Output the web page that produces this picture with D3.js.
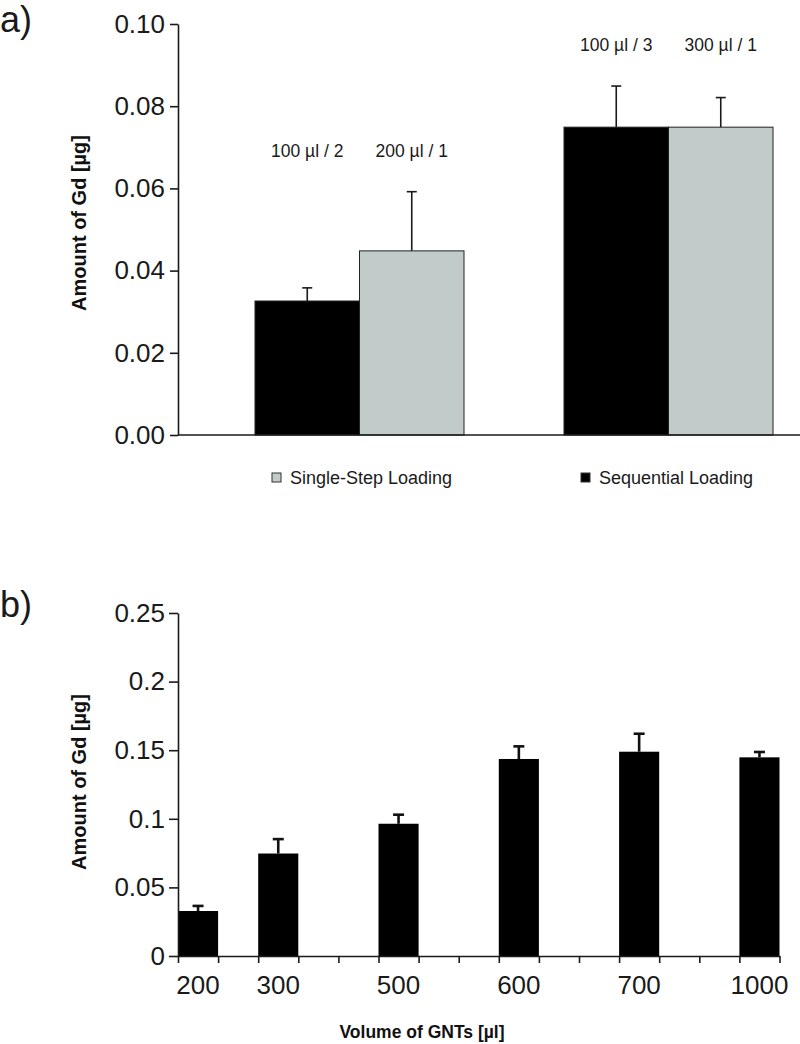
<!DOCTYPE html>
<html>
<head>
<meta charset="utf-8">
<script src="https://cdn.jsdelivr.net/npm/d3@7/dist/d3.min.js"></script>
<style>
  html, body { margin: 0; padding: 0; background: #fff; }
  svg { display: block; font-family: "Liberation Sans", Arial, Helvetica, sans-serif; }
</style>
</head>
<body>
<svg id="chart" width="800" height="1044"></svg>
<script>
// ---------- Data: panel a ----------
const groupsA = ["g1", "g2"];
const seriesA = ["Sequential Loading", "Single-Step Loading"];
const barLabelsA = [["100 µl / 2", "200 µl / 1"], ["100 µl / 3", "300 µl / 1"]];
const sequentialValues = [0.0326, 0.0749];
const sequentialErrors = [0.0032, 0.0100];
const singleStepValues = [0.0448, 0.0749];
const singleStepErrors = [0.0144, 0.0072];
const ticksA = [0, 0.02, 0.04, 0.06, 0.08, 0.10];
const legendA = ["Single-Step Loading", "Sequential Loading"];

// ---------- Data: panel b ----------
const volumesB = ["200", "300", "500", "600", "700", "1000"];
const valuesB = [0.0328, 0.0747, 0.0964, 0.1436, 0.1489, 0.1448];
const errorsB = [0.0037, 0.0105, 0.0066, 0.0092, 0.0131, 0.0039];
const ticksB = [0, 0.05, 0.1, 0.15, 0.2, 0.25];
const tickLabelsB = ["0", "0.05", "0.1", "0.15", "0.2", "0.25"];

// ---------- Layout ----------
const slotCount = 15;
const slotOfBar = [0, 2, 5, 8, 11, 14];
const colors = { "Sequential Loading": "#000000", "Single-Step Loading": "#c1cbca" };

const svg = d3.select("#chart");

// ===== Panel a =====
const yA = d3.scaleLinear().domain([0, 0.10]).range([435, 24]);
const x0A = d3.scaleBand().domain(groupsA).range([205, 823]).paddingInner(0.3236).paddingOuter(0.1618);
const x1A = d3.scaleBand().domain(seriesA).range([0, x0A.bandwidth()]);

const gA = svg.append("g");
const barsA = [];
groupsA.forEach((g, i) => {
  barsA.push({ g, s: seriesA[0], v: sequentialValues[i], e: sequentialErrors[i], label: barLabelsA[i][0] });
  barsA.push({ g, s: seriesA[1], v: singleStepValues[i], e: singleStepErrors[i], label: barLabelsA[i][1] });
});

// error bars (behind bars)
const errA = gA.append("g").attr("stroke", "#1a1a1a").attr("stroke-width", 1.6);
barsA.forEach(d => {
  const cx = x0A(d.g) + x1A(d.s) + x1A.bandwidth() / 2;
  errA.append("line").attr("x1", cx).attr("x2", cx).attr("y1", yA(d.v)).attr("y2", yA(d.v + d.e));
  errA.append("line").attr("x1", cx - 5).attr("x2", cx + 5).attr("y1", yA(d.v + d.e)).attr("y2", yA(d.v + d.e));
});

gA.append("g").selectAll("rect").data(barsA).join("rect")
  .attr("x", d => x0A(d.g) + x1A(d.s))
  .attr("y", d => yA(d.v))
  .attr("width", x1A.bandwidth())
  .attr("height", d => yA(0) - yA(d.v))
  .attr("fill", d => colors[d.s])
  .attr("stroke", "#222")
  .attr("stroke-width", 1);

// bar labels
groupsA.forEach((g, i) => {
  const top = d3.max(barsA.filter(d => d.g === g), d => d.v + d.e);
  const ly = yA(top) - 35;
  barsA.filter(d => d.g === g).forEach(d => {
    gA.append("text")
      .attr("x", x0A(d.g) + x1A(d.s) + x1A.bandwidth() / 2)
      .attr("y", ly)
      .attr("text-anchor", "middle")
      .attr("font-size", 17.5)
      .attr("fill", "#1a1a1a")
      .text(d.label);
  });
});

// x baseline
gA.append("line").attr("x1", 178).attr("x2", 800).attr("y1", yA(0)).attr("y2", yA(0))
  .attr("stroke", "#1a1a1a").attr("stroke-width", 1.6);

// y axis
const axA = gA.append("g").attr("transform", "translate(178,0)")
  .call(d3.axisLeft(yA).tickValues(ticksA).tickFormat(d3.format(".2f")).tickSize(8).tickSizeOuter(0).tickPadding(5));
axA.selectAll("path, line").attr("stroke", "#1a1a1a").attr("stroke-width", 1.6);
axA.selectAll("text").attr("font-size", 26).attr("fill", "#1a1a1a").attr("font-family", "Liberation Sans, Arial, sans-serif");

// y title
gA.append("text").attr("transform", "translate(86,223) rotate(-90)")
  .attr("text-anchor", "middle").attr("font-size", 20).attr("font-weight", "bold").attr("fill", "#111")
  .text("Amount of Gd [µg]");

// panel letter
svg.append("text").attr("x", 0).attr("y", 32).attr("font-size", 36).attr("fill", "#1a1a1a").text("a)");

// legend
const legX = [272, 581];
legendA.forEach((name, i) => {
  svg.append("rect").attr("x", legX[i]).attr("y", 473).attr("width", 9).attr("height", 9)
    .attr("fill", colors[name]).attr("stroke", "#333").attr("stroke-width", 1);
  svg.append("text").attr("x", legX[i] + 18).attr("y", 484).attr("font-size", 18).attr("fill", "#1a1a1a").text(name);
});

// ===== Panel b =====
const yB = d3.scaleLinear().domain([0, 0.25]).range([956, 613]);
const xB = d3.scaleBand().domain(d3.range(slotCount)).range([178, 779.5]).padding(0);
const xEdge = d3.scaleLinear().domain([0, slotCount]).range([178, 779.5]);

const gB = svg.append("g");
const barsB = volumesB.map((v, i) => ({ v, val: valuesB[i], err: errorsB[i], slot: slotOfBar[i] }));

const errB = gB.append("g").attr("stroke", "#111").attr("stroke-width", 2.6);
barsB.forEach(d => {
  const cx = xB(d.slot) + xB.bandwidth() / 2;
  errB.append("line").attr("x1", cx).attr("x2", cx).attr("y1", yB(d.val)).attr("y2", yB(d.val + d.err));
  errB.append("line").attr("x1", cx - 5.5).attr("x2", cx + 5.5).attr("y1", yB(d.val + d.err)).attr("y2", yB(d.val + d.err));
});

gB.append("g").selectAll("rect").data(barsB).join("rect")
  .attr("x", d => xB(d.slot))
  .attr("y", d => yB(d.val))
  .attr("width", xB.bandwidth())
  .attr("height", d => yB(0) - yB(d.val))
  .attr("fill", "#000");

// x axis with slot-edge ticks
const axBx = gB.append("g").attr("transform", `translate(0,${yB(0)})`)
  .call(d3.axisBottom(xEdge).tickValues(d3.range(slotCount + 1)).tickFormat("").tickSize(7).tickSizeOuter(0));
axBx.selectAll("path, line").attr("stroke", "#1a1a1a").attr("stroke-width", 1.6);

// x tick labels centered on bars
gB.append("g").selectAll("text").data(barsB).join("text")
  .attr("x", d => xB(d.slot) + xB.bandwidth() / 2)
  .attr("y", 994)
  .attr("text-anchor", "middle")
  .attr("font-size", 26)
  .attr("fill", "#1a1a1a")
  .text(d => d.v);

// y axis
const axBy = gB.append("g").attr("transform", "translate(178,0)")
  .call(d3.axisLeft(yB).tickValues(ticksB).tickFormat((d, i) => tickLabelsB[i]).tickSize(9).tickSizeOuter(0).tickPadding(4));
axBy.selectAll("path, line").attr("stroke", "#1a1a1a").attr("stroke-width", 1.6);
axBy.selectAll("text").attr("font-size", 26).attr("fill", "#1a1a1a").attr("font-family", "Liberation Sans, Arial, sans-serif");

// titles
gB.append("text").attr("transform", "translate(86,782) rotate(-90)")
  .attr("text-anchor", "middle").attr("font-size", 20).attr("font-weight", "bold").attr("fill", "#111")
  .text("Amount of Gd [µg]");
gB.append("text").attr("x", 422).attr("y", 1038)
  .attr("text-anchor", "middle").attr("font-size", 17.5).attr("font-weight", "bold").attr("fill", "#111")
  .text("Volume of GNTs [µl]");

svg.append("text").attr("x", 0).attr("y", 617).attr("font-size", 36).attr("fill", "#1a1a1a").text("b)");
</script>
</body>
</html>
